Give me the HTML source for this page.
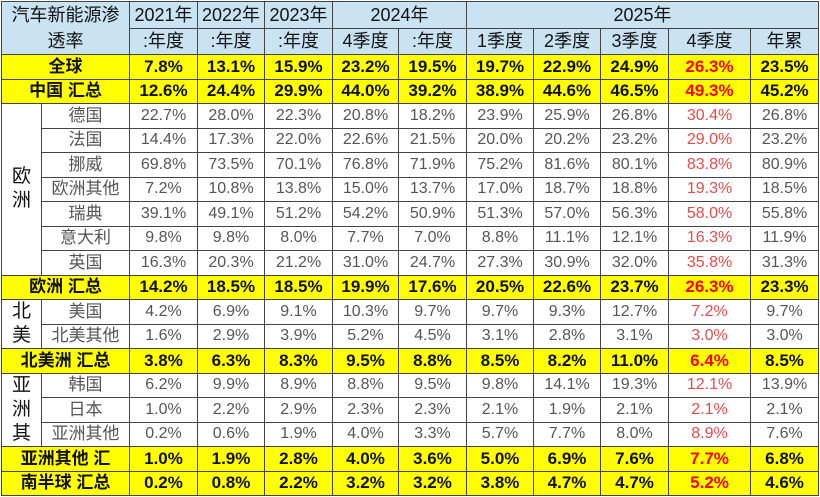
<!DOCTYPE html>
<html><head><meta charset="utf-8"><style>
body{margin:0;background:#fff;width:820px;height:497px;overflow:hidden}
table{position:absolute;left:1px;top:1px;border-collapse:collapse;table-layout:fixed;width:818px;font-family:"Liberation Sans","Noto Sans CJK SC",sans-serif}
td{border:1.5px solid #444;text-align:center;padding:0;height:23.5px;line-height:18px;font-size:16px;color:#555;white-space:nowrap;overflow:hidden}
tr.h td{background:#c9e3f3;color:#111;font-size:18px;height:24.5px}
tr.y td{background:#ffff00;color:#111;font-weight:bold;font-size:17px}
td.n{font-size:17px}
td.g{font-size:19px;color:#111;line-height:24px;white-space:normal}
tr.y td.r{color:#ff0000}
td.lr{color:#e84a4a}
</style></head><body>
<table>
<colgroup><col style="width:40px"><col style="width:88px"><col style="width:68px"><col style="width:67px"><col style="width:68px"><col style="width:66px"><col style="width:68px"><col style="width:67px"><col style="width:67px"><col style="width:68px"><col style="width:82px"><col style="width:68px"></colgroup>
<tr class="h"><td colspan="2" rowspan="2" style="line-height:26px">汽车新能源渗<br>透率</td><td>2021年</td><td>2022年</td><td>2023年</td><td colspan="2">2024年</td><td colspan="5">2025年</td></tr>
<tr class="h"><td>:年度</td><td>:年度</td><td>:年度</td><td>4季度</td><td>:年度</td><td>1季度</td><td>2季度</td><td>3季度</td><td>4季度</td><td>年累</td></tr>
<tr class="y"><td colspan="2">全球</td><td>7.8%</td><td>13.1%</td><td>15.9%</td><td>23.2%</td><td>19.5%</td><td>19.7%</td><td>22.9%</td><td>24.9%</td><td class="r">26.3%</td><td>23.5%</td></tr>
<tr class="y"><td colspan="2">中国 汇总</td><td>12.6%</td><td>24.4%</td><td>29.9%</td><td>44.0%</td><td>39.2%</td><td>38.9%</td><td>44.6%</td><td>46.5%</td><td class="r">49.3%</td><td>45.2%</td></tr>
<tr><td rowspan="7" class="g">欧<br>洲</td><td class="n">德国</td><td>22.7%</td><td>28.0%</td><td>22.3%</td><td>20.8%</td><td>18.2%</td><td>23.9%</td><td>25.9%</td><td>26.8%</td><td class="lr">30.4%</td><td>26.8%</td></tr>
<tr><td class="n">法国</td><td>14.4%</td><td>17.3%</td><td>22.0%</td><td>22.6%</td><td>21.5%</td><td>20.0%</td><td>20.2%</td><td>23.2%</td><td class="lr">29.0%</td><td>23.2%</td></tr>
<tr><td class="n">挪威</td><td>69.8%</td><td>73.5%</td><td>70.1%</td><td>76.8%</td><td>71.9%</td><td>75.2%</td><td>81.6%</td><td>80.1%</td><td class="lr">83.8%</td><td>80.9%</td></tr>
<tr><td class="n">欧洲其他</td><td>7.2%</td><td>10.8%</td><td>13.8%</td><td>15.0%</td><td>13.7%</td><td>17.0%</td><td>18.7%</td><td>18.8%</td><td class="lr">19.3%</td><td>18.5%</td></tr>
<tr><td class="n">瑞典</td><td>39.1%</td><td>49.1%</td><td>51.2%</td><td>54.2%</td><td>50.9%</td><td>51.3%</td><td>57.0%</td><td>56.3%</td><td class="lr">58.0%</td><td>55.8%</td></tr>
<tr><td class="n">意大利</td><td>9.8%</td><td>9.8%</td><td>8.0%</td><td>7.7%</td><td>7.0%</td><td>8.8%</td><td>11.1%</td><td>12.1%</td><td class="lr">16.3%</td><td>11.9%</td></tr>
<tr><td class="n">英国</td><td>16.3%</td><td>20.3%</td><td>21.2%</td><td>31.0%</td><td>24.7%</td><td>27.3%</td><td>30.9%</td><td>32.0%</td><td class="lr">35.8%</td><td>31.3%</td></tr>
<tr class="y"><td colspan="2">欧洲 汇总</td><td>14.2%</td><td>18.5%</td><td>18.5%</td><td>19.9%</td><td>17.6%</td><td>20.5%</td><td>22.6%</td><td>23.7%</td><td class="r">26.3%</td><td>23.3%</td></tr>
<tr><td rowspan="2" class="g">北<br>美</td><td class="n">美国</td><td>4.2%</td><td>6.9%</td><td>9.1%</td><td>10.3%</td><td>9.7%</td><td>9.7%</td><td>9.3%</td><td>12.7%</td><td class="lr">7.2%</td><td>9.7%</td></tr>
<tr><td class="n">北美其他</td><td>1.6%</td><td>2.9%</td><td>3.9%</td><td>5.2%</td><td>4.5%</td><td>3.1%</td><td>2.8%</td><td>3.1%</td><td class="lr">3.0%</td><td>3.0%</td></tr>
<tr class="y"><td colspan="2">北美洲 汇总</td><td>3.8%</td><td>6.3%</td><td>8.3%</td><td>9.5%</td><td>8.8%</td><td>8.5%</td><td>8.2%</td><td>11.0%</td><td class="r">6.4%</td><td>8.5%</td></tr>
<tr><td rowspan="3" class="g">亚<br>洲<br>其</td><td class="n">韩国</td><td>6.2%</td><td>9.9%</td><td>8.9%</td><td>8.8%</td><td>9.5%</td><td>9.8%</td><td>14.1%</td><td>19.3%</td><td class="lr">12.1%</td><td>13.9%</td></tr>
<tr><td class="n">日本</td><td>1.0%</td><td>2.2%</td><td>2.9%</td><td>2.3%</td><td>2.3%</td><td>2.1%</td><td>1.9%</td><td>2.1%</td><td class="lr">2.1%</td><td>2.1%</td></tr>
<tr><td class="n">亚洲其他</td><td>0.2%</td><td>0.6%</td><td>1.9%</td><td>4.0%</td><td>3.3%</td><td>5.7%</td><td>7.7%</td><td>8.0%</td><td class="lr">8.9%</td><td>7.6%</td></tr>
<tr class="y"><td colspan="2">亚洲其他 汇</td><td>1.0%</td><td>1.9%</td><td>2.8%</td><td>4.0%</td><td>3.6%</td><td>5.0%</td><td>6.9%</td><td>7.6%</td><td class="r">7.7%</td><td>6.8%</td></tr>
<tr class="y"><td colspan="2">南半球 汇总</td><td>0.2%</td><td>0.8%</td><td>2.2%</td><td>3.2%</td><td>3.2%</td><td>3.8%</td><td>4.7%</td><td>4.7%</td><td class="r">5.2%</td><td>4.6%</td></tr>
</table>
</body></html>
